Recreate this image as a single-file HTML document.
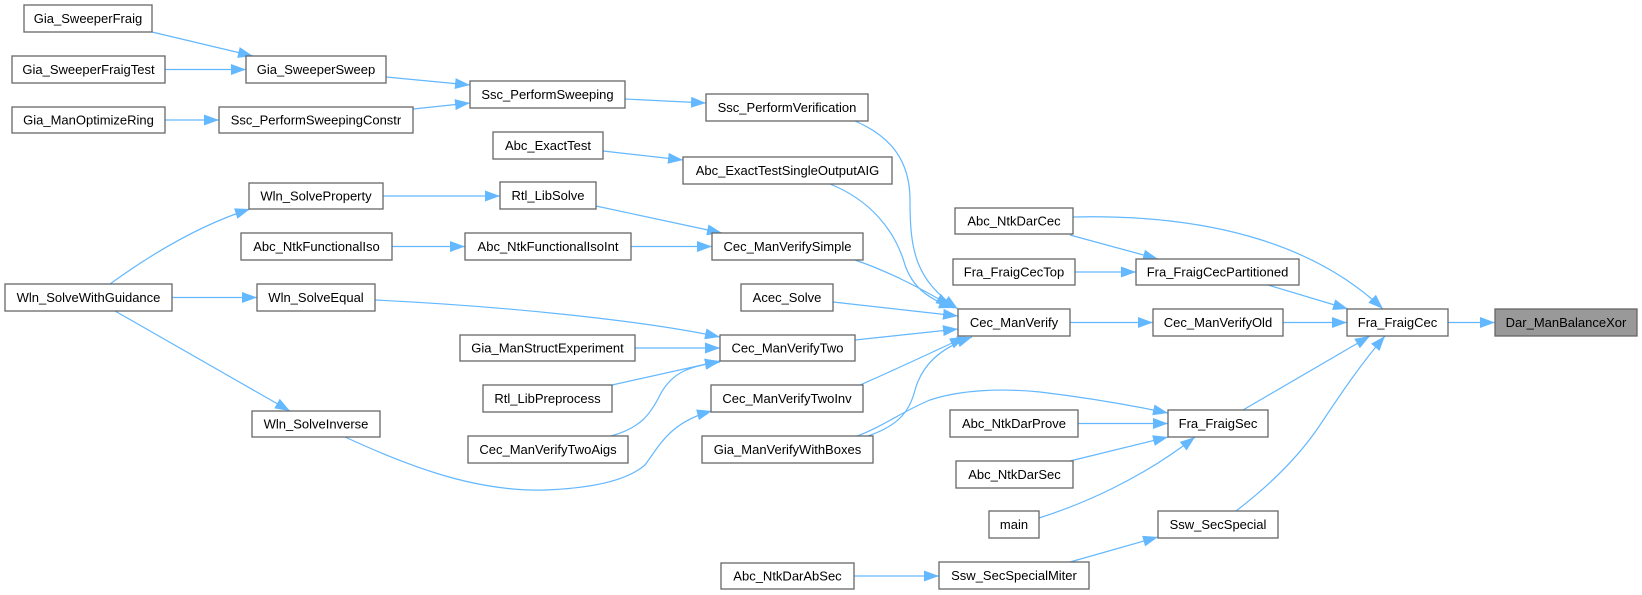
<!DOCTYPE html>
<html>
<head>
<meta charset="utf-8">
<style>
html,body{margin:0;padding:0;background:#fff;}
svg{display:block;}
text{font-family:"Liberation Sans",Arial,sans-serif;font-size:13px;fill:#000;text-anchor:middle;}
.n{fill:#fff;stroke:#666;stroke-width:1.3;}
.g{fill:#999;stroke:#666;stroke-width:1.3;}
.e{fill:none;stroke:#63b8ff;stroke-width:1.2;marker-end:url(#ah);}
</style>
</head>
<body>
<svg width="1642" height="595" viewBox="0 0 1642 595" xmlns="http://www.w3.org/2000/svg">
<defs>
<marker id="ah" viewBox="0 0 15 11" refX="15" refY="5.5" markerWidth="15" markerHeight="11" markerUnits="userSpaceOnUse" orient="auto">
<path d="M0,0 L15,5.5 L0,11 z" fill="#63b8ff"/>
</marker>
</defs>

<!-- edges -->
<path class="e" d="M152,32 L253,56"/>
<path class="e" d="M165,69.5 L246,69.5"/>
<path class="e" d="M165,120 L219,120"/>
<path class="e" d="M386,77 L470,85"/>
<path class="e" d="M413,109 L470,103"/>
<path class="e" d="M625,99 L706,103"/>
<path class="e" d="M855,121 C890,136 910,160 910,200 C910,250 915,280 958,309"/>
<path class="e" d="M603,151 L683,160"/>
<path class="e" d="M830,184 C870,200 895,230 905,265 C912,285 925,298 954,308"/>
<path class="e" d="M383,196 L500,196"/>
<path class="e" d="M596,206 L722,233"/>
<path class="e" d="M392,246.5 L465,246.5"/>
<path class="e" d="M631,246.5 L712,246.5"/>
<path class="e" d="M855,260 C890,272 920,288 951,306"/>
<path class="e" d="M110,284 C150,255 200,225 250,209"/>
<path class="e" d="M172,297.5 L257,297.5"/>
<path class="e" d="M115,311 L290,411"/>
<path class="e" d="M375,300 C500,306 640,320 720,337"/>
<path class="e" d="M635,348 L720,348"/>
<path class="e" d="M612,385 L720,361"/>
<path class="e" d="M611,436 C640,428 650,415 660,395 C672,372 690,366 720,362"/>
<path class="e" d="M345,437 C400,462 470,492 545,490 C600,488 630,478 645,465 C660,445 670,422 712,411"/>
<path class="e" d="M833,302 L958,316"/>
<path class="e" d="M855,340 L958,329"/>
<path class="e" d="M860,385 C890,372 920,358 965,337"/>
<path class="e" d="M868,436 C900,425 910,410 915,390 C922,365 940,348 972,337"/>
<path class="e" d="M857,436 C880,428 905,410 930,400 C960,390 1000,388 1040,392 C1090,398 1130,405 1168,413"/>
<path class="e" d="M1070,322.5 L1153,322.5"/>
<path class="e" d="M1073,217 C1200,214 1310,240 1383,309"/>
<path class="e" d="M1070,235 L1158,259"/>
<path class="e" d="M1075,272 L1136,272"/>
<path class="e" d="M1268,285 L1348,309"/>
<path class="e" d="M1283,322.5 L1347,322.5"/>
<path class="e" d="M1243,410 L1370,336"/>
<path class="e" d="M1236,511 C1270,485 1300,455 1320,425 C1340,395 1360,365 1385,336"/>
<path class="e" d="M1078,423.5 L1168,423.5"/>
<path class="e" d="M1070,461 L1168,437"/>
<path class="e" d="M1039,518 C1080,505 1140,480 1195,437"/>
<path class="e" d="M1070,562 L1158,537"/>
<path class="e" d="M854,576 L939,576"/>
<path class="e" d="M1448,322.5 L1495,322.5"/>

<!-- nodes -->
<rect class="n" x="24" y="5" width="128" height="27"/><text x="88" y="23">Gia_SweeperFraig</text>
<rect class="n" x="12" y="56" width="153" height="27"/><text x="88.5" y="74">Gia_SweeperFraigTest</text>
<rect class="n" x="246" y="56" width="140" height="27"/><text x="316" y="74">Gia_SweeperSweep</text>
<rect class="n" x="12" y="107" width="153" height="26"/><text x="88.5" y="124.5">Gia_ManOptimizeRing</text>
<rect class="n" x="219" y="107" width="194" height="26"/><text x="316" y="124.5">Ssc_PerformSweepingConstr</text>
<rect class="n" x="470" y="81" width="155" height="27"/><text x="547.5" y="99">Ssc_PerformSweeping</text>
<rect class="n" x="706" y="94" width="162" height="27"/><text x="787" y="112">Ssc_PerformVerification</text>
<rect class="n" x="493" y="132" width="110" height="27"/><text x="548" y="150">Abc_ExactTest</text>
<rect class="n" x="683" y="157" width="209" height="27"/><text x="787.5" y="175">Abc_ExactTestSingleOutputAIG</text>
<rect class="n" x="249" y="183" width="134" height="26"/><text x="316" y="200.5">Wln_SolveProperty</text>
<rect class="n" x="500" y="182" width="96" height="27"/><text x="548" y="200">Rtl_LibSolve</text>
<rect class="n" x="241" y="233" width="151" height="27"/><text x="316.5" y="251">Abc_NtkFunctionalIso</text>
<rect class="n" x="465" y="233" width="166" height="27"/><text x="548" y="251">Abc_NtkFunctionalIsoInt</text>
<rect class="n" x="712" y="233" width="151" height="27"/><text x="787.5" y="251">Cec_ManVerifySimple</text>
<rect class="n" x="5" y="284" width="167" height="27"/><text x="88.5" y="302">Wln_SolveWithGuidance</text>
<rect class="n" x="257" y="284" width="118" height="27"/><text x="316" y="302">Wln_SolveEqual</text>
<rect class="n" x="741" y="284" width="92" height="27"/><text x="787" y="302">Acec_Solve</text>
<rect class="n" x="720" y="335" width="135" height="26"/><text x="787.5" y="352.5">Cec_ManVerifyTwo</text>
<rect class="n" x="460" y="335" width="175" height="26"/><text x="547.5" y="352.5">Gia_ManStructExperiment</text>
<rect class="n" x="483" y="385" width="129" height="27"/><text x="547.5" y="403">Rtl_LibPreprocess</text>
<rect class="n" x="711" y="385" width="152" height="27"/><text x="787" y="403">Cec_ManVerifyTwoInv</text>
<rect class="n" x="252" y="411" width="128" height="26"/><text x="316" y="428.5">Wln_SolveInverse</text>
<rect class="n" x="468" y="436" width="160" height="27"/><text x="548" y="454">Cec_ManVerifyTwoAigs</text>
<rect class="n" x="702" y="436" width="171" height="27"/><text x="787.5" y="454">Gia_ManVerifyWithBoxes</text>
<rect class="n" x="955" y="208" width="118" height="26"/><text x="1014" y="225.5">Abc_NtkDarCec</text>
<rect class="n" x="953" y="259" width="122" height="26"/><text x="1014" y="276.5">Fra_FraigCecTop</text>
<rect class="n" x="1136" y="259" width="163" height="26"/><text x="1217.5" y="276.5">Fra_FraigCecPartitioned</text>
<rect class="n" x="958" y="309" width="112" height="27"/><text x="1014" y="327">Cec_ManVerify</text>
<rect class="n" x="1153" y="309" width="130" height="27"/><text x="1218" y="327">Cec_ManVerifyOld</text>
<rect class="n" x="1347" y="309" width="101" height="27"/><text x="1397.5" y="327">Fra_FraigCec</text>
<rect class="g" x="1495" y="309" width="142" height="27"/><text x="1566" y="327">Dar_ManBalanceXor</text>
<rect class="n" x="1168" y="410" width="100" height="27"/><text x="1218" y="428">Fra_FraigSec</text>
<rect class="n" x="950" y="410" width="128" height="27"/><text x="1014" y="428">Abc_NtkDarProve</text>
<rect class="n" x="956" y="461" width="117" height="27"/><text x="1014.5" y="479">Abc_NtkDarSec</text>
<rect class="n" x="989" y="511" width="50" height="27"/><text x="1014" y="529">main</text>
<rect class="n" x="1158" y="511" width="120" height="27"/><text x="1218" y="529">Ssw_SecSpecial</text>
<rect class="n" x="939" y="562" width="150" height="27"/><text x="1014" y="580">Ssw_SecSpecialMiter</text>
<rect class="n" x="721" y="563" width="133" height="26"/><text x="787.5" y="580.5">Abc_NtkDarAbSec</text>
</svg>
</body>
</html>
